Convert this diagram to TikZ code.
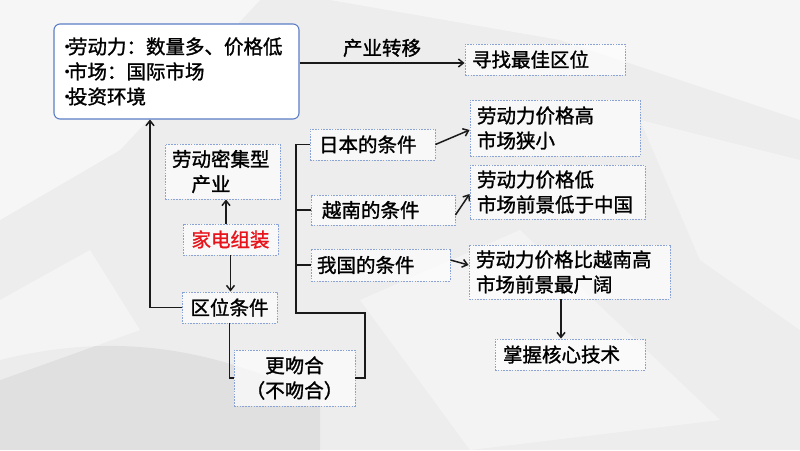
\documentclass[tikz,border=0pt]{standalone}
\usepackage{fontspec}
\newfontfamily\cjk[FakeBold=1.3]{Noto Sans CJK SC}
\usetikzlibrary{arrows.meta,calc}
\definecolor{bg}{HTML}{EDEDED}
\definecolor{bdr}{HTML}{8AA3D6}
\definecolor{mainbdr}{HTML}{5B7EC6}
\definecolor{ln}{HTML}{1A1A1A}
\definecolor{redtxt}{HTML}{E8141B}
\newcommand\bul{\makebox[7pt][l]{\rmfamily\fontsize{17}{17}\selectfont\raisebox{2.5pt}{\textbullet}}}
\begin{document}
\begin{tikzpicture}[x=1pt,y=-1pt,
  txt/.style={font=\cjk\fontsize{19.5}{25}\selectfont, text=black},
  box/.style={txt, draw=bdr, line width=0.9pt, dash pattern=on 1.6pt off 1.2pt,
    fill=white, fill opacity=0.65, text opacity=1, align=left, inner ysep=2pt},
  cbox/.style={box, align=center},
  mainbox/.style={txt, draw=mainbdr, line width=1.1pt, rounded corners=6pt, fill=white,
    align=left, inner ysep=2pt},
  con/.style={ln, line width=1.5pt},
  arr/.style={con, -{Straight Barb[length=5pt,width=8pt]}}]
\useasboundingbox (0,0) rectangle (800,450);
% background
\fill[bg] (0,0) rectangle (800,450);
\fill[white, opacity=0.55] (0,0) -- (260,0) -- (120,150) -- (0,220) -- cycle;
\fill[white, opacity=0.45] (330,0) -- (800,0) -- (800,120) -- (560,40) -- cycle;
\fill[white, opacity=0.35] (640,120) -- (800,160) -- (800,330) -- (700,260) -- cycle;
\fill[white, opacity=0.35] (360,300) -- (520,230) -- (720,420) -- (470,450) -- cycle;
\fill[black, opacity=0.05] (0,360) .. controls (120,330) and (220,350) .. (320,400) -- (320,450) -- (0,450) -- cycle;
\fill[white, opacity=0.4] (0,300) -- (90,250) -- (140,330) -- (0,380) -- cycle;

% nodes
\node[mainbox, minimum width=245pt, minimum height=95pt, inner xsep=7pt, text width=231pt] (main) at (176.5,71.5)
  {\bul 劳动力：数量多、价格低\\ \bul 市场：国际市场\\ \bul 投资环境};
\node[box, minimum width=160pt, minimum height=31pt, inner xsep=7pt, text width=146pt] (find) at (545,59.5) {寻找最佳区位};
\node[box, minimum width=170pt, minimum height=56pt, inner xsep=7pt, text width=156pt] (jpres) at (555,128) {劳动力价格高\\市场狭小};
\node[box, minimum width=125pt, minimum height=31pt, inner xsep=9pt, text width=107pt] (jp) at (372.5,144.5) {日本的条件};
\node[box, minimum width=144pt, minimum height=30pt, inner xsep=11pt, text width=122pt] (vn) at (383,210) {越南的条件};
\node[box, minimum width=175pt, minimum height=54pt, inner xsep=7pt, text width=161pt] (vnres) at (557.5,192) {劳动力价格低\\市场前景低于中国};
\node[box, minimum width=139pt, minimum height=32pt, inner xsep=6pt, text width=127pt] (cn) at (380.5,265) {我国的条件};
\node[box, minimum width=201pt, minimum height=54pt, inner xsep=7pt, text width=187pt] (cnres) at (569.5,272) {劳动力价格比越南高\\市场前景最广阔};
\node[box, minimum width=150pt, minimum height=31pt, inner xsep=8pt, text width=134pt] (core) at (570,354.5) {掌握核心技术};
\node[box, minimum width=115pt, minimum height=55pt, inner xsep=7pt, text width=101pt] (labor) at (222.5,171.5) {劳动密集型\\\hspace*{1em}产业};
\node[cbox, minimum width=95pt, minimum height=31pt, inner xsep=3pt, text=redtxt] (appl) at (230.5,239.5) {家电组装};
\node[cbox, minimum width=95pt, minimum height=31pt, inner xsep=3pt] (loc) at (229.5,307.5) {区位条件};
\node[cbox, minimum width=121pt, minimum height=56pt, inner xsep=3pt] (fit) at (294.5,378) {更吻合\\（不吻合）};

% helper coordinates
\coordinate (upx) at (150,0);
\coordinate (bx) at (296,0);
\coordinate (bt) at (296,313);
\coordinate (br) at (365,313);

% connectors
\draw[arr] ([yshift=-3.5pt]find.west -| main.east) -- ([yshift=-3.5pt]find.west)
  node[midway, above=2pt, txt] {产业转移};
\draw[arr] (loc.west) -| (main.south -| upx);
\draw[arr] ([xshift=-4.5pt]appl.north) -- ([xshift=-4.5pt]appl.north |- labor.south);
\draw[arr] (appl.south) -- (appl.south |- loc.north);
\draw[con] (loc.south) |- (fit.west);
\draw[con] (jp.west) -- (jp.west -| bx) -- (bt) -- (br) |- (fit.east);
\draw[con] (vn.west) -- (vn.west -| bx);
\draw[con] (cn.west) -- (cn.west -| bx);
\draw[arr] (jp.east) -- ([yshift=-2pt]jpres.west);
\draw[arr] ([yshift=-5pt]vn.east) -- ([yshift=-2pt]vnres.west);
\draw[arr] ([yshift=5pt]cn.east) -- ([yshift=7pt]cnres.west);
\draw[arr] ([xshift=-9pt]core.north |- cnres.south) -- ([xshift=-9pt]core.north);
\end{tikzpicture}
\end{document}
